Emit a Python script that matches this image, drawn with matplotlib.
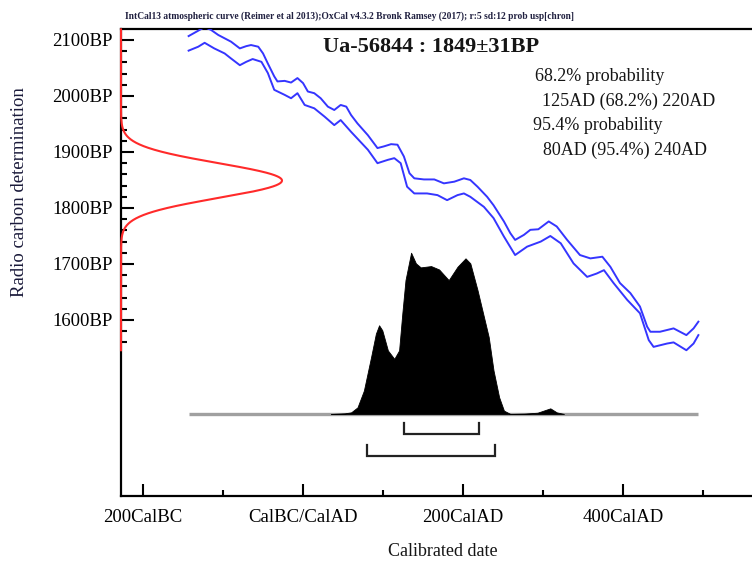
import numpy as np
import matplotlib
matplotlib.use("Agg")
import matplotlib.pyplot as plt
from matplotlib.transforms import blended_transform_factory

# ---------------- data ----------------
sample_label = "Ua-56844 : 1849\u00b131BP"
c14_mean = 1849
c14_sd = 31
header = ("IntCal13 atmospheric curve (Reimer et al 2013);OxCal v4.3.2 Bronk Ramsey (2017); "
          "r:5 sd:12 prob usp[chron]")
range_lines = ["68.2% probability", "125AD (68.2%) 220AD",
               "95.4% probability", "80AD (95.4%) 240AD"]
range_68 = [126, 220]
range_95 = [80, 240]

# calibration curve (upper / lower 1-sigma envelope)
upper_years = [-143, -133, -123, -115, -106, -98, -90, -79, -71, -65, -56, -50, -44, -36,
               -32, -23, -15, -7, 0, 6, 14, 22, 31, 39, 47, 54, 60, 68, 81, 93, 101, 110,
               118, 126, 133, 139, 151, 164, 176, 189, 201, 209, 218, 230, 238, 251, 259,
               265, 276, 284, 294, 307, 317, 330, 346, 359, 374, 384, 396, 409, 421, 430,
               434, 446, 463, 479, 488, 494]
upper_bp = [2107, 2115, 2123, 2118, 2109, 2103, 2097, 2085, 2089, 2091, 2088, 2076, 2058, 2035,
            2026, 2027, 2024, 2032, 2023, 2008, 2005, 1996, 1981, 1975, 1984, 1981, 1966, 1951,
            1930, 1907, 1910, 1914, 1913, 1892, 1862, 1853, 1851, 1851, 1844, 1847, 1853, 1850,
            1838, 1820, 1805, 1776, 1755, 1743, 1752, 1761, 1762, 1776, 1767, 1743, 1716, 1710,
            1713, 1695, 1666, 1648, 1624, 1588, 1579, 1579, 1585, 1573, 1585, 1597]
lower_years = [-143, -131, -123, -111, -98, -90, -79, -71, -63, -52, -44, -36, -23, -15, -7,
               2, 14, 27, 39, 47, 60, 81, 93, 106, 114, 122, 130, 139, 155, 168, 180, 193,
               201, 209, 226, 238, 251, 265, 280, 297, 309, 322, 338, 355, 367, 376, 388,
               405, 421, 432, 438, 455, 463, 479, 488, 494]
lower_bp = [2081, 2088, 2095, 2085, 2076, 2067, 2055, 2061, 2066, 2061, 2041, 2011, 2002, 1996,
            2005, 1984, 1978, 1963, 1948, 1957, 1936, 1904, 1880, 1886, 1889, 1880, 1838, 1826,
            1826, 1823, 1814, 1823, 1826, 1820, 1802, 1782, 1749, 1716, 1731, 1740, 1750, 1737,
            1701, 1677, 1683, 1689, 1666, 1636, 1612, 1564, 1552, 1558, 1560, 1546, 1558, 1573]

# calibrated probability distribution (relative)
dist_years = [35, 52, 60, 68, 76, 85, 91, 95, 99, 106, 114, 120, 124, 128, 135, 141, 147,
              160, 170, 182, 193, 203, 209, 218, 226, 232, 238, 245, 251, 259, 276, 293,
              303, 309, 317, 326]
dist_prob = [0.0, 0.004, 0.010, 0.041, 0.145, 0.353, 0.498, 0.550, 0.519, 0.394, 0.342,
             0.394, 0.622, 0.830, 1.000, 0.934, 0.909, 0.917, 0.896, 0.830, 0.913, 0.965,
             0.934, 0.768, 0.602, 0.477, 0.270, 0.104, 0.021, 0.0, 0.002, 0.008, 0.025,
             0.035, 0.010, 0.0]

x_major = [-200, 0, 200, 400]
x_labels = ["200CalBC", "CalBC/CalAD", "200CalAD", "400CalAD"]
x_minor = [-100, 100, 300, 500]
y_major = [1600, 1700, 1800, 1900, 2000, 2100]
y_labels = ["1600BP", "1700BP", "1800BP", "1900BP", "2000BP", "2100BP"]

# ---------------- figure ----------------
plt.rcParams['font.family'] = ['Liberation Serif', 'DejaVu Serif']
W, H = 752, 564
fig = plt.figure(figsize=(W / 100, H / 100), dpi=100)
ax = fig.add_axes([121 / W, (H - 496) / H, 1 - 121 / W, (496 - 29.3) / H])

ax.set_xlim(-227.5, 561)
ax.set_ylim(1285.7, 2119.1)

for side in ['left', 'bottom', 'top']:
    ax.spines[side].set_linewidth(1.6)
    ax.spines[side].set_color('black')
ax.spines['right'].set_visible(False)

ax.set_xticks(x_major)
ax.set_xticklabels(x_labels)
ax.set_xticks(x_minor, minor=True)
ax.set_yticks(y_major)
ax.set_yticklabels(y_labels)
ax.set_yticks([v for v in range(1560, 2100, 20) if v not in y_major], minor=True)
ax.tick_params(axis='both', which='major', direction='in', length=9, width=1.5,
               labelsize=13.5, colors='black')
ax.tick_params(axis='both', which='minor', direction='in', length=4.5, width=1.5)
ax.tick_params(axis='x', which='major', pad=9)
ax.tick_params(axis='y', which='major', pad=6)
ax.tick_params(right=False, top=False, which='both')

# calibration curve
ax.plot(upper_years, upper_bp, color='#3535ff', lw=1.4, zorder=3)
ax.plot(lower_years, lower_bp, color='#3535ff', lw=1.4, zorder=3)

# radiocarbon measurement (normal distribution along y axis)
bp_grid = np.arange(1546, 2119.5, 0.5)
dens = np.exp(-0.5 * ((bp_grid - c14_mean) / c14_sd) ** 2)
trans = blended_transform_factory(ax.transAxes, ax.transData)
peak_frac = (282 - 121) / (W - 121)
ax.plot(dens * peak_frac, bp_grid, color='#ff2a2a', lw=1.5, transform=trans,
        clip_on=False, zorder=5)

# calibrated distribution on twin axis
ax2 = ax.twinx()
ax2.set_ylim(-0.5085, 2.385)
for s in ax2.spines.values():
    s.set_visible(False)
ax2.set_yticks([])
ax2.tick_params(right=False, labelright=False)
ax2.plot([upper_years[0], upper_years[-1]], [0, 0], color='#a0a0a0', lw=2.4, zorder=1,
         solid_capstyle='butt')
ax2.fill_between(dist_years, 0, dist_prob, color='black', lw=0.6, edgecolor='black', zorder=2)

# ranges
def bracket(rng, level, top):
    ax2.plot([rng[0], rng[0], rng[1], rng[1]], [top, level, level, top],
             color='#222222', lw=1.6, solid_joinstyle='miter')

bracket(range_68, -0.126, -0.058)
bracket(range_95, -0.260, -0.192)

# texts
def fx(px):
    return px / W

def fy(py):
    return (H - py) / H

fig.text(fx(431), fy(47), sample_label, ha='center', va='center', fontsize=16,
         fontweight='bold', color='#151515')
fig.text(fx(125), fy(16.5), header, ha='left', va='center', fontsize=6.85,
         fontweight='bold', color='#202040')
fig.text(fx(535), fy(77), range_lines[0], ha='left', va='center', fontsize=13, color='#151515')
fig.text(fx(542), fy(101), range_lines[1], ha='left', va='center', fontsize=13, color='#151515')
fig.text(fx(533), fy(126), range_lines[2], ha='left', va='center', fontsize=13, color='#151515')
fig.text(fx(543), fy(150), range_lines[3], ha='left', va='center', fontsize=13, color='#151515')
fig.text(fx(20), fy(192), "Radio carbon determination", rotation=90, ha='center',
         va='center', fontsize=13.5, color='#1a1a3a')
fig.text(fx(443), fy(552), "Calibrated date", ha='center', va='center', fontsize=13,
         color='#151515')

fig.savefig("out.png", dpi=100)
